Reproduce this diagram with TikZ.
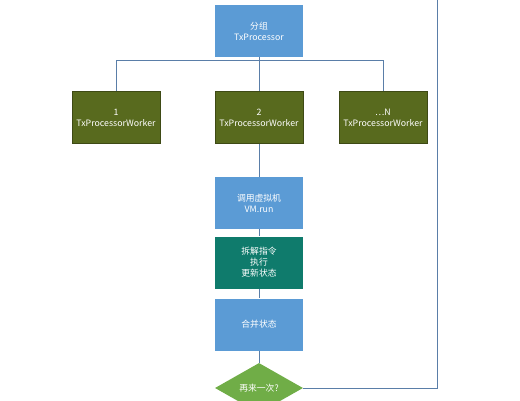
\documentclass[tikz,border=0pt]{standalone}
\usepackage{fontspec}
\setmainfont{Noto Sans CJK SC}
\usetikzlibrary{shapes.geometric}
\definecolor{boxblue}{HTML}{5B9BD5}
\definecolor{olive}{HTML}{586A1E}
\definecolor{tealbox}{HTML}{0F7B6C}
\definecolor{diagreen}{HTML}{70AD47}
\definecolor{linecol}{HTML}{5A7EA8}
\tikzset{
  base/.style={minimum width=88pt, minimum height=52pt, inner sep=1pt, text=white, font=\fontsize{8.8}{11}\selectfont, align=center},
  bluebox/.style={base, fill=boxblue},
  olivebox/.style={base, fill=olive, draw=olive!70!black, line width=0.4pt},
  tealbx/.style={base, fill=tealbox},
  decision/.style={diamond, aspect=1.74, fill=diagreen, minimum width=88pt, minimum height=50pt, inner sep=0pt, text=white, font=\fontsize{8.8}{11}\selectfont},
  conn/.style={draw=linecol, line width=0.8pt}
}
\begin{document}
\begin{tikzpicture}[x=1pt,y=-1pt]
\useasboundingbox (0,0) rectangle (520,400);
\clip (0,0) rectangle (520,400);
\node[bluebox] (top) at (259,31) {分组\\TxProcessor};
\node[olivebox] (w1) at (116,117.5) {1\\TxProcessorWorker};
\node[olivebox] (w2) at (259,117.5) {2\\TxProcessorWorker};
\node[olivebox] (w3) at (383,117.5) {⋯N\\TxProcessorWorker};
\node[bluebox] (vm) at (259,203) {调用虚拟机\\VM.run};
\node[tealbx] (ex) at (259,262.5) {拆解指令\\执行\\更新状态};
\node[bluebox] (mg) at (259,324.5) {合并状态};
\node[decision] (dc) at (259,388) {再来一次?};
\coordinate (hl) at (116,60);
\coordinate (hr) at (383,60);
\coordinate (rt) at (437,-5);
\draw[conn] (top.south) -- (259,60);
\draw[conn] (hl) -- (hr);
\draw[conn] (hl) -- (w1.north);
\draw[conn] (259,60) -- (w2.north);
\draw[conn] (hr) -- (w3.north);
\draw[conn] (w2.south) -- (vm.north);
\draw[conn] (vm.south) -- (ex.north);
\draw[conn] (ex.south) -- (mg.north);
\draw[conn] (mg.south) -- (dc.north);
\draw[conn] (dc.east) -| (rt);
\end{tikzpicture}
\end{document}
